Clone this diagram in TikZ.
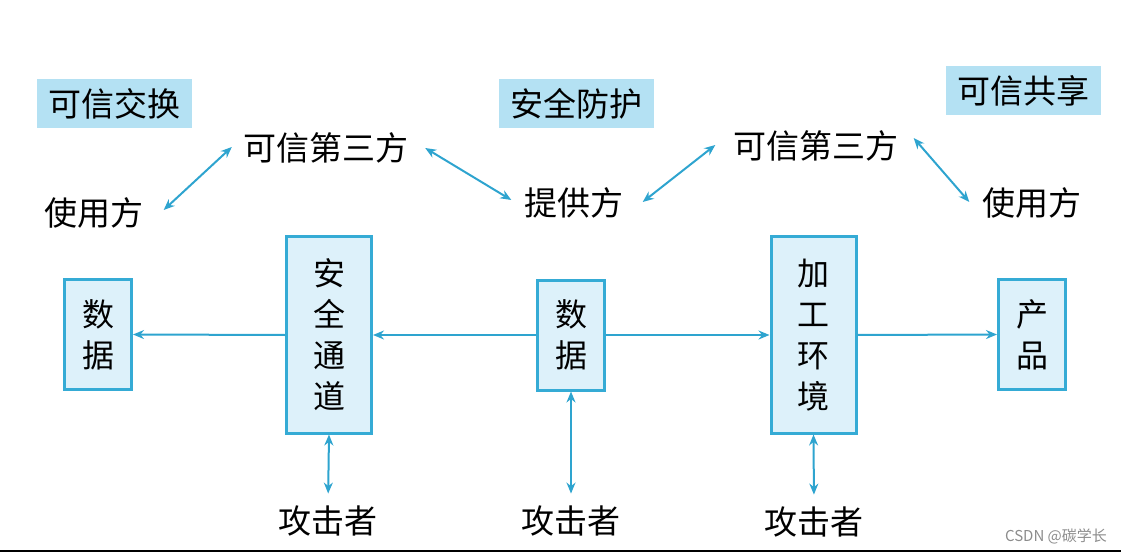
\documentclass[tikz,border=0pt]{standalone}
\usepackage{fontspec}
\newfontfamily\cjk{Noto Sans CJK SC}
\usepackage{tikz}
\usetikzlibrary{positioning,arrows.meta}
\definecolor{hdrblue}{HTML}{B4E1F3}
\definecolor{boxfill}{HTML}{DDF1FA}
\definecolor{boxline}{HTML}{35ABD5}
\definecolor{arrblue}{HTML}{2EA4CF}
\tikzset{
  hdrbox/.style={fill=hdrblue, inner sep=0pt, minimum width=155pt, minimum height=49pt,
    font=\cjk\fontsize{33}{40}\selectfont},
  figtext/.style={inner sep=0pt, font=\cjk\fontsize{33}{40}\selectfont},
  figblock/.style={draw=boxline, line width=3pt, fill=boxfill, align=center, inner sep=0pt,
    font=\cjk\fontsize{32}{41}\selectfont},
  figarrow/.style={-{Stealth[length=11pt,width=9pt]}, line width=2pt, draw=arrblue},
  figdouble/.style={{Stealth[length=11pt,width=9pt]}-{Stealth[length=11pt,width=9pt]}, line width=2pt, draw=arrblue},
}

\begin{document}
\begin{tikzpicture}[x=1pt, y=-1pt,
    small/.style={figblock, minimum width=67pt, minimum height=110pt},
    tall/.style={figblock, minimum width=85pt, minimum height=196pt}]
  \useasboundingbox (0,0) rectangle (1121,553);
  % 标题
  \node[hdrbox] (h1) at (114.5,103.5) {可信交换};
  \node[hdrbox] (h2) at (576.5,103.5) {安全防护};
  \node[hdrbox] (h3) at (1023,91) {可信共享};
  % 参与方
  \node[figtext] (u1) at (94,213) {使用方};
  \node[figtext] (t1) at (325.5,148) {可信第三方};
  \node[figtext] (pv) at (574,203) {提供方};
  \node[figtext] (t2) at (816,146) {可信第三方};
  \node[figtext] (u2) at (1032,203) {使用方};
  \draw[figdouble] ([xshift=20pt,yshift=3pt]u1.east) -- ([xshift=-11pt,yshift=1pt]t1.west);
  \draw[figdouble] ([xshift=17pt]t1.east) -- ([xshift=-13pt,yshift=3pt]pv.west);
  \draw[figdouble] ([xshift=19pt,yshift=1pt]pv.east) -- ([xshift=-18pt,yshift=1pt]t2.west);
  \draw[figdouble] ([xshift=15pt,yshift=8pt]t2.east) -- ([xshift=-13pt,yshift=1pt]u2.west);
  % 数据流
  \node[small] (d1) at (98,334.5) {数\\据};
  \node[tall] (ch) at (329,335) {安\\全\\通\\道};
  \node[small] (d2) at (571,335) {数\\据};
  \node[tall] (env) at (813.5,335) {加\\工\\环\\境};
  \node[small] (pr) at (1032,334.5) {产\\品};
  \draw[figarrow] (ch.west) -- (d1.east);
  \draw[figarrow] (d2.west) -- (ch.east);
  \draw[figarrow] (d2.east) -- (env.west);
  \draw[figarrow] (env.east) -- (pr.west);
  % 攻击者
  \node[figtext] (a1) at (328,521) {攻击者};
  \node[figtext] (a2) at (571,521) {攻击者};
  \node[figtext] (a3) at (814,522) {攻击者};
  \draw[figdouble, shorten >=12pt] (ch.south) -- (a1.north);
  \draw[figdouble, shorten >=12pt] (d2.south) -- (a2.north);
  \draw[figdouble, shorten >=12pt] (env.south) -- (a3.north);
  % 水印
  \node[inner sep=0pt, text=black!45, font=\cjk\fontsize{15}{18}\selectfont] (wm) at (1056,536) {CSDN @碳学长};
  \draw[line width=2.5pt] (0,551) -- (1121,551);
\end{tikzpicture}
\end{document}
